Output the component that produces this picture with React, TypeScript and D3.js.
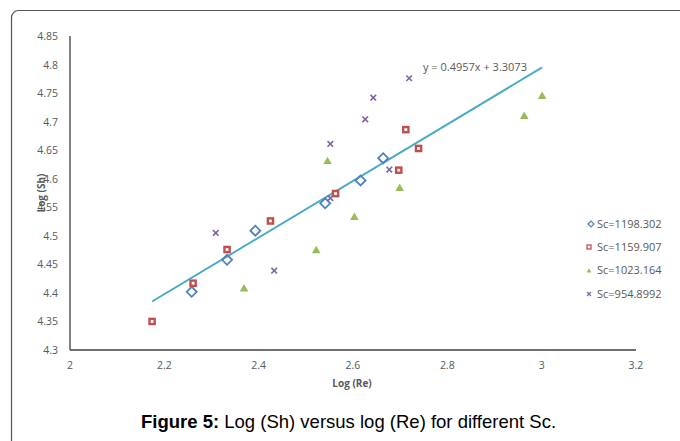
import React from "react";
import * as d3 from "d3";

const seriesNames = ["Sc=1198.302", "Sc=1159.907", "Sc=1023.164", "Sc=954.8992"];
const blueX = [2.258, 2.333, 2.393, 2.541, 2.616, 2.664];
const blueY = [4.402, 4.458, 4.509, 4.557, 4.597, 4.636];
const redX = [2.174, 2.261, 2.333, 2.425, 2.563, 2.697, 2.712, 2.739];
const redY = [4.35, 4.417, 4.476, 4.526, 4.574, 4.615, 4.686, 4.653];
const greenX = [2.369, 2.522, 2.546, 2.603, 2.699, 2.963, 3.001];
const greenY = [4.407, 4.474, 4.63, 4.532, 4.583, 4.709, 4.744];
const purpleX = [2.309, 2.433, 2.552, 2.552, 2.626, 2.643, 2.677, 2.719];
const purpleY = [4.505, 4.439, 4.661, 4.566, 4.704, 4.742, 4.616, 4.776];
const xTicks = [2, 2.2, 2.4, 2.6, 2.8, 3, 3.2];
const yTicks = [4.3, 4.35, 4.4, 4.45, 4.5, 4.55, 4.6, 4.65, 4.7, 4.75, 4.8, 4.85];
const trendSlope = 0.4957;
const trendIntercept = 3.3073;
const trendRange = [2.174, 3.001];
const trendLabel = "y = 0.4957x + 3.3073";

const BLUE = "#4F81BD";
const RED = "#C0504D";
const GREEN = "#9BBB59";
const PURPLE = "#8064A2";
const TEAL = "#4BACC6";
const GREY = "#595959";
const FONT = "'Open Sans', sans-serif";

export default function App() {
  const x = d3.scaleLinear().domain([2, 3.2]).range([70, 636]);
  const y = d3.scaleLinear().domain([4.3, 4.85]).range([350, 36]);
  const tri = d3.symbol().type(d3.symbolTriangle).size(32)()!;
  const triSmall = d3.symbol().type(d3.symbolTriangle).size(10)()!;
  const line = d3.line<number>().x((v) => x(v)).y((v) => y(trendSlope * v + trendIntercept));

  const diamond = (cx: number, cy: number, r: number) =>
    `M${cx - r},${cy}L${cx},${cy - r}L${cx + r},${cy}L${cx},${cy + r}Z`;
  const cross = (cx: number, cy: number, r: number) =>
    `M${cx - r},${cy - r}L${cx + r},${cy + r}M${cx - r},${cy + r}L${cx + r},${cy - r}`;

  const legendY = [224, 247, 270, 294];

  return (
    <svg width={680} height={441} style={{ position: "absolute", left: 0, top: 0, background: "#fff" }}>
      <rect x={11.5} y={10.5} width={700} height={460} rx={7} fill="#fff" stroke="#555" strokeWidth={1.2} />
      {/* axes */}
      <line x1={x(2)} x2={x(2)} y1={y(4.85)} y2={y(4.3)} stroke="#404040" strokeWidth={1.3} />
      <line x1={x(2)} x2={x(3.2)} y1={y(4.3)} y2={y(4.3)} stroke="#404040" strokeWidth={1.3} />
      {yTicks.map((t) => (
        <text key={t} x={58} y={y(t) + 4} textAnchor="end" fontSize={10.5} fontFamily={FONT} fill={GREY}>
          {String(t)}
        </text>
      ))}
      {xTicks.map((t) => (
        <text key={t} x={x(t)} y={369} textAnchor="middle" fontSize={10.5} fontFamily={FONT} fill={GREY}>
          {String(t)}
        </text>
      ))}
      <text x={352} y={387} textAnchor="middle" fontSize={10} fontWeight="bold" fontFamily={FONT} fill={GREY}>
        Log (Re)
      </text>
      <text
        transform="translate(45,193) rotate(-90)"
        textAnchor="middle"
        fontSize={10}
        fontWeight="bold"
        fontFamily={FONT}
        fill={GREY}
      >
        Log (Sh)
      </text>
      {/* trendline */}
      <path d={line(trendRange)!} fill="none" stroke={TEAL} strokeWidth={2} />
      <text x={423} y={71} fontSize={11} fontFamily={FONT} fill={GREY}>
        {trendLabel}
      </text>
      {/* series */}
      {blueX.map((v, i) => (
        <path key={"b" + i} d={diamond(x(v), y(blueY[i]), 5)} fill="none" stroke={BLUE} strokeWidth={1.8} />
      ))}
      {redX.map((v, i) => (
        <rect
          key={"r" + i}
          x={x(v) - 2.6}
          y={y(redY[i]) - 2.6}
          width={5.2}
          height={5.2}
          fill="#fff"
          stroke={RED}
          strokeWidth={2.4}
        />
      ))}
      {greenX.map((v, i) => (
        <path key={"g" + i} d={tri} transform={`translate(${x(v)},${y(greenY[i])})`} fill={GREEN} />
      ))}
      {purpleX.map((v, i) => (
        <path key={"p" + i} d={cross(x(v), y(purpleY[i]), 2.8)} stroke={PURPLE} strokeWidth={1.6} fill="none" />
      ))}
      {/* legend */}
      <path d={diamond(591, legendY[0], 3)} fill="none" stroke={BLUE} strokeWidth={1.2} />
      <rect x={587} y={legendY[1] - 2} width={4} height={4} fill="#fff" stroke={RED} strokeWidth={1.3} />
      <path d={triSmall} transform={`translate(589,${legendY[2] + 1})`} fill={GREEN} />
      <path d={cross(589, legendY[3], 2)} stroke={PURPLE} strokeWidth={1.2} fill="none" />
      {seriesNames.map((n, i) => (
        <text key={n} x={597} y={legendY[i] + 4} fontSize={11} fontFamily={FONT} fill={GREY}>
          {n}
        </text>
      ))}
      {/* caption */}
      <text x={141} y={428} fontSize={18.5} fontFamily="'Liberation Sans', Arial, sans-serif" fill="#000">
        <tspan fontWeight="bold">Figure 5:</tspan>
        <tspan> Log (Sh) versus log (Re) for different Sc.</tspan>
      </text>
    </svg>
  );
}
